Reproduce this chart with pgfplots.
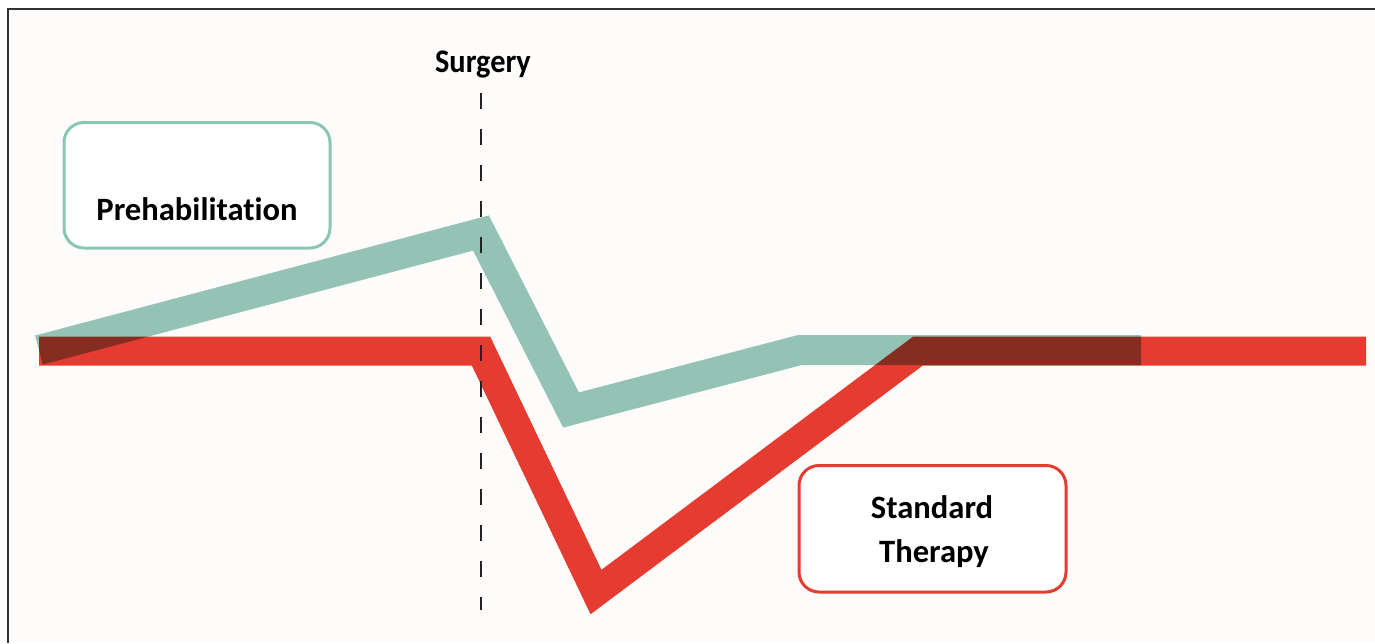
\documentclass[border=0pt]{standalone}
\usepackage{pgfplots}
\pgfplotsset{compat=1.18}
\usepackage{fontspec}
\setmainfont[Ligatures=NoCommon]{Carlito}
\newfontfamily\surgfont[FakeStretch=0.92,Ligatures=NoCommon]{Carlito}
\definecolor{teal1}{RGB}{150,197,184}
\definecolor{tealbox}{RGB}{140,196,182}
\definecolor{red1}{RGB}{229,59,48}
\definecolor{bg}{RGB}{253,252,250}
\definecolor{framec}{RGB}{50,50,50}
\definecolor{dashc}{RGB}{35,35,35}
\begin{document}
\begin{tikzpicture}
\useasboundingbox (0,0) rectangle (687.5pt,321.5pt);
\fill[white] (0,0) rectangle (687.5pt,321.5pt);
\begin{axis}[
  at={(0,0)}, anchor=south west,
  scale only axis, width=687.5pt, height=321.5pt,
  xmin=0, xmax=1375, ymin=0, ymax=643, y dir=reverse,
  hide axis, clip=false,
]
\fill[bg] (axis cs:8,9) rectangle (axis cs:1375,643);
\draw[framec, line width=1.25pt] (axis cs:8,643) -- (axis cs:8,9) -- (axis cs:1375,9);
% Standard therapy
\addplot[red1, mark=none, line width=14.5pt, line join=miter, line cap=butt]
  coordinates {(39,351) (481,351) (596,592) (918,351) (1366,351)};
% Prehabilitation
\addplot[teal1, mark=none, line width=15pt, line join=miter, line cap=butt, blend mode=multiply]
  coordinates {(39,350) (481,233) (571,410) (800,350) (1141,350)};
% Surgery marker
\addplot[dashc, mark=none, line width=1.25pt, dash pattern=on 8pt off 10pt]
  coordinates {(481,93) (481,610)};
\node[anchor=base, font=\surgfont\fontsize{16.5pt}{20pt}\selectfont\bfseries] at (axis cs:483,72.5) {Surgery};
\draw[tealbox, line width=1.5pt, rounded corners=10pt, fill=white] (axis cs:64,122.5) rectangle (axis cs:330,248);
\node[anchor=base, font=\fontsize{16.3pt}{20pt}\selectfont\bfseries] at (axis cs:197,220) {Prehabilitation};
\draw[red1, line width=1.5pt, rounded corners=10pt, fill=white] (axis cs:799,465.5) rectangle (axis cs:1066,592);
\node[anchor=base, font=\fontsize{16.3pt}{20pt}\selectfont\bfseries] at (axis cs:932,518) {Standard};
\node[anchor=base, font=\fontsize{16.3pt}{20pt}\selectfont\bfseries] at (axis cs:934,562) {Therapy};
\end{axis}
\end{tikzpicture}
\end{document}
